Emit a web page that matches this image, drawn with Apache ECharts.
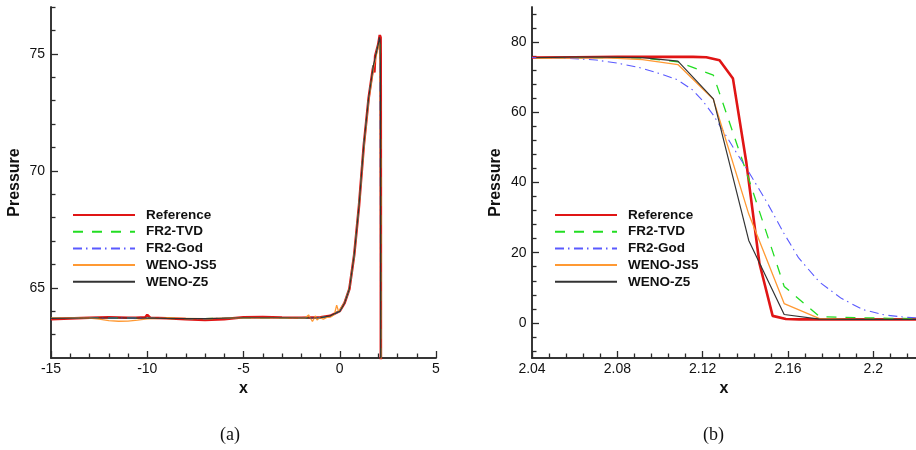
<!DOCTYPE html>
<html><head><meta charset="utf-8">
<script src="https://cdn.jsdelivr.net/npm/echarts@6/dist/echarts.min.js"></script>
<style>html,body{margin:0;padding:0;background:#fff}#c{width:916px;height:450px}</style>
</head><body><div id="c"></div>
<script>
const names = ['Reference', 'FR2-TVD', 'FR2-God', 'WENO-JS5', 'WENO-Z5'];

// ---------- Panel (a) ticks ----------
const aXMajor = [-15, -10, -5, 0, 5];
const aXMinor = [-14, -13, -12, -11, -9, -8, -7, -6, -4, -3, -2, -1, 1, 2, 3, 4];
const aYMajor = [65, 70, 75];
const aYMinor = [63, 64, 66, 67, 68, 69, 71, 72, 73, 74, 76, 77];

// ---------- Panel (b) ticks ----------
const bXMajor = [2.04, 2.08, 2.12, 2.16, 2.2];
const bXMinor = [2.048, 2.056, 2.064, 2.072, 2.088, 2.096, 2.104, 2.112, 2.128, 2.136, 2.144, 2.152, 2.168, 2.176, 2.184, 2.192, 2.208, 2.216];
const bYMajor = [0, 20, 40, 60, 80];
const bYMinor = [-8, -4, 4, 8, 12, 16, 24, 28, 32, 36, 44, 48, 52, 56, 64, 68, 72, 76, 84, 88];

// ---------- Panel (a) data, x < 2.04 ----------
const aSmoothX = [-15, -13, -11, -9, -7, -5, -3, -1.5, -1, -0.5, 0, 0.25, 0.5, 0.75, 1, 1.25, 1.5, 1.75, 2];
const aZ5Y  = [63.69, 63.71, 63.71, 63.69, 63.68, 63.72, 63.72, 63.71, 63.72, 63.8, 64.0, 64.35, 64.95, 66.4, 68.5, 71.1, 73.1, 74.5, 75.4];
const aTvdY = [63.69, 63.71, 63.71, 63.69, 63.68, 63.72, 63.72, 63.71, 63.72, 63.8, 64.0, 64.35, 64.95, 66.4, 68.5, 71.1, 73.1, 74.5, 75.4];
const aGodY = [63.69, 63.71, 63.71, 63.69, 63.68, 63.72, 63.72, 63.71, 63.72, 63.8, 64.0, 64.35, 64.95, 66.4, 68.5, 71.1, 73.1, 74.5, 75.4];

const aRefX = [-15, -13, -12, -11, -10.6, -10.55, -10.5, -10.1, -10.0, -9.95, -9.85, -9, -8, -7, -6, -5, -4, -3, -2, -1, -0.5, 0, 0.25, 0.5, 0.75, 1, 1.25, 1.5, 1.72, 1.76, 1.8, 1.84, 2];
const aRefY = [63.66, 63.72, 63.74, 63.72, 63.72, 63.79, 63.72, 63.74, 63.84, 63.88, 63.72, 63.7, 63.66, 63.63, 63.66, 63.74, 63.75, 63.73, 63.72, 63.74, 63.8, 64.0, 64.35, 64.95, 66.4, 68.5, 71.1, 73.1, 74.35, 74.5, 74.2, 74.9, 75.4];

const aJsX = [-15, -13, -12.5, -12, -11.5, -11, -10.5, -10, -9, -7, -5, -3, -1.8, -1.62, -1.52, -1.42, -1.34, -1.26, -1.18, -1.05, -0.85, -0.65, -0.45, -0.28, -0.16, -0.06, 0, 0.25, 0.5, 0.75, 1, 1.25, 1.5, 1.75, 2];
const aJsY = [63.7, 63.71, 63.66, 63.6, 63.57, 63.58, 63.62, 63.67, 63.7, 63.68, 63.72, 63.72, 63.71, 63.84, 63.9, 63.56, 63.5, 63.8, 63.62, 63.72, 63.66, 63.74, 63.76, 63.86, 64.26, 63.98, 64.02, 64.37, 64.95, 66.4, 68.5, 71.0, 73.0, 74.4, 75.3];

// ---------- Panel (b) data (shock region) ----------
const bRefX = [2.04, 2.06, 2.08, 2.1, 2.1155, 2.1217, 2.1279, 2.1342, 2.1404, 2.1466, 2.1528, 2.159, 2.1652, 2.2246];
const bRefY = [75.6, 75.7, 75.8, 75.8, 75.8, 75.7, 74.8, 69.6, 46.0, 17.0, 2.0, 1.1, 1.0, 1.0];

const bCellX = [2.042, 2.0586, 2.0752, 2.0918, 2.1084, 2.125, 2.1416, 2.1582, 2.1748, 2.1914, 2.208, 2.2246];
const bZ5Y  = [75.6, 75.7, 75.7, 75.6, 74.6, 63.8, 23.5, 2.4, 1.1, 1.0, 1.0, 1.0];
const bJsY  = [75.4, 75.5, 75.5, 75.0, 73.6, 63.7, 31.0, 5.5, 1.2, 1.0, 1.0, 1.0];
const bTvdY = [75.6, 75.6, 75.6, 75.5, 74.4, 70.6, 41.0, 10.4, 1.8, 1.5, 1.3, 1.2];

const bGodX = [2.04, 2.05, 2.06, 2.07, 2.08, 2.09, 2.1, 2.108, 2.115, 2.12, 2.125, 2.13, 2.135, 2.1416, 2.15, 2.158, 2.165, 2.1748, 2.185, 2.195, 2.205, 2.215, 2.225];
const bGodY = [75.6, 75.5, 75.3, 74.9, 74.0, 72.8, 71.0, 69.3, 66.5, 63.3, 59.2, 54.3, 49.3, 43.0, 34.5, 25.6, 18.5, 11.6, 7.0, 3.8, 2.3, 1.6, 1.3];

// ---------- helpers ----------
const zip = (xs, ys) => xs.map((x, i) => [x, ys[i]]);

const styles = {
  'Reference': {color: '#e01515', width: 2.6, type: 'solid'},
  'FR2-TVD':   {color: '#22dd22', width: 1.3, type: [10, 9]},
  'FR2-God':   {color: '#5a5aff', width: 1.1, type: [9, 4, 1.5, 4.5]},
  'WENO-JS5':  {color: '#ff9933', width: 1.3, type: 'solid'},
  'WENO-Z5':   {color: '#333333', width: 1.2, type: 'solid'}
};

const dataA = {
  'Reference': zip(aRefX, aRefY).concat(zip(bRefX, bRefY)),
  'FR2-TVD':   zip(aSmoothX, aTvdY).concat(zip(bCellX, bTvdY)),
  'FR2-God':   zip(aSmoothX, aGodY).concat(zip(bGodX, bGodY)),
  'WENO-JS5':  zip(aJsX, aJsY).concat(zip(bCellX, bJsY)),
  'WENO-Z5':   zip(aSmoothX, aZ5Y).concat(zip(bCellX, bZ5Y))
};
const dataB = {
  'Reference': zip(bRefX, bRefY),
  'FR2-TVD':   zip(bCellX, bTvdY),
  'FR2-God':   zip(bGodX, bGodY),
  'WENO-JS5':  zip(bCellX, bJsY),
  'WENO-Z5':   zip(bCellX, bZ5Y)
};

const AX = '#2a2a2a';
const labelFont = {color: '#111', fontFamily: 'Liberation Sans, Arial, sans-serif', fontSize: 14};
const nameFont = {color: '#111', fontFamily: 'Liberation Sans, Arial, sans-serif', fontSize: 16, fontWeight: 'bold'};

function axis(gridIndex, pos, min, max, major, minor, isMajor, name, nameGap, labelMargin) {
  const a = {
    type: 'value', gridIndex, position: pos, min, max,
    axisLine: {show: true, onZero: false, lineStyle: {color: AX, width: 1.5}},
    axisTick: {show: true, inside: true, length: isMajor ? 7 : 4.5, customValues: isMajor ? major : minor,
               lineStyle: {color: AX, width: 1.3}},
    axisLabel: isMajor ? Object.assign({show: true, customValues: major, margin: labelMargin}, labelFont) : {show: false},
    splitLine: {show: false}
  };
  if (isMajor && name) {
    a.name = name; a.nameLocation = 'middle'; a.nameGap = nameGap; a.nameTextStyle = nameFont;
  }
  return a;
}

const xAxis = [
  axis(0, 'bottom', -15, 5, aXMajor, aXMinor, true, 'x', 16, 4),
  axis(0, 'bottom', -15, 5, aXMajor, aXMinor, false),
  axis(1, 'bottom', 2.04, 2.22, bXMajor, bXMinor, true, 'x', 16, 4),
  axis(1, 'bottom', 2.04, 2.22, bXMajor, bXMinor, false)
];
const yAxis = [
  axis(0, 'left', 62, 77, aYMajor, aYMinor, true, 'Pressure', 28, 6),
  axis(0, 'left', 62, 77, aYMajor, aYMinor, false),
  axis(1, 'left', -10, 90, bYMajor, bYMinor, true, 'Pressure', 28, 5.5),
  axis(1, 'left', -10, 90, bYMajor, bYMinor, false)
];

const series = [];
names.forEach(n => {
  series.push({name: n, type: 'line', xAxisIndex: 0, yAxisIndex: 0, data: dataA[n],
    symbol: 'none', showSymbol: false, clip: true, lineStyle: styles[n], itemStyle: {color: styles[n].color}});
});
names.forEach(n => {
  series.push({name: n, type: 'line', xAxisIndex: 2, yAxisIndex: 2, data: dataB[n],
    symbol: 'none', showSymbol: false, clip: true, lineStyle: styles[n], itemStyle: {color: styles[n].color}});
});

function legend(left) {
  return {
    data: names, orient: 'vertical', left, top: 208, padding: 0,
    itemWidth: 62, itemHeight: 14, itemGap: 2.7, selectedMode: false,
    itemStyle: {color: 'rgba(0,0,0,0)', borderWidth: 0, borderColor: 'rgba(0,0,0,0)', opacity: 0},
    textStyle: {color: '#111', fontFamily: 'Liberation Sans, Arial, sans-serif', fontSize: 13.5, fontWeight: 'bold', padding: [0, 0, 0, 6]}
  };
}

const chart = echarts.init(document.getElementById('c'), null, {renderer: 'canvas'});
chart.setOption({
  animation: false,
  backgroundColor: '#fff',
  grid: [
    {left: 51, top: 7, width: 385, height: 351},
    {left: 532, top: 7, width: 385, height: 351}
  ],
  xAxis, yAxis, series,
  legend: [legend(72), legend(554)],
  graphic: [
    {type: 'text', left: 220, top: 426, style: {text: '(a)', font: '18px "Liberation Serif", "DejaVu Serif", serif', fill: '#111'}},
    {type: 'text', left: 703, top: 426, style: {text: '(b)', font: '18px "Liberation Serif", "DejaVu Serif", serif', fill: '#111'}}
  ]
});
</script></body></html>
